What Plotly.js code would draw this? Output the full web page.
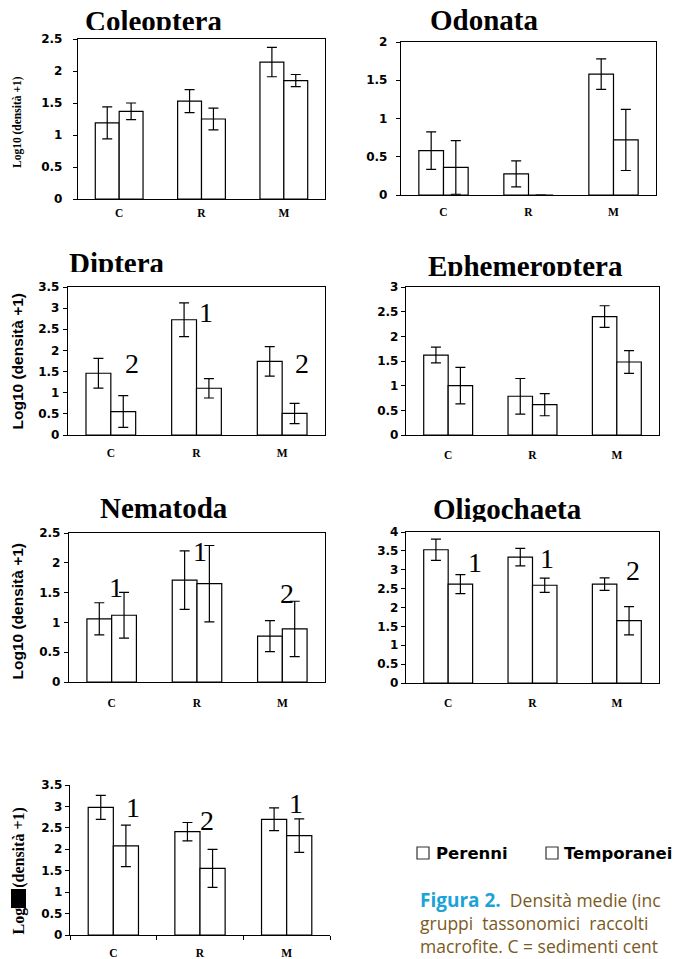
<!DOCTYPE html>
<html>
<head>
<meta charset="utf-8">
<script src="https://cdn.plot.ly/plotly-3.0.1.min.js"></script>
<style>
  html, body { margin: 0; padding: 0; background: #fff; }
  #wrap { position: relative; width: 673px; height: 959px; overflow: hidden; }
  #chart { width: 673px; height: 959px; }
  .mask { position: absolute; background: #fff; }
</style>
</head>
<body>
<div id="wrap">
  <div id="chart"></div>
</div>
<script>
// Sampling sites and the two habitat types
const sites = ['C', 'R', 'M'];
const seriesNames = ['Perenni', 'Temporanei'];

// Mean log10(density + 1) and standard errors per taxon
const coleopteraPerenni = [1.19, 1.53, 2.14];
const coleopteraPerenniErr = [0.25, 0.18, 0.23];
const coleopteraTemporanei = [1.37, 1.25, 1.85];
const coleopteraTemporaneiErr = [0.13, 0.17, 0.095];

const odonataPerenni = [0.58, 0.275, 1.58];
const odonataPerenniErr = [0.245, 0.17, 0.2];
const odonataTemporanei = [0.36, 0, 0.72];
const odonataTemporaneiErr = [0.35, 0, 0.40];

const dipteraPerenni = [1.46, 2.725, 1.74];
const dipteraPerenniErr = [0.35, 0.40, 0.35];
const dipteraTemporanei = [0.555, 1.105, 0.51];
const dipteraTemporaneiErr = [0.375, 0.23, 0.24];

const ephemeropteraPerenni = [1.62, 0.785, 2.40];
const ephemeropteraPerenniErr = [0.16, 0.36, 0.22];
const ephemeropteraTemporanei = [1.00, 0.615, 1.48];
const ephemeropteraTemporaneiErr = [0.37, 0.225, 0.23];

const nematodaPerenni = [1.06, 1.71, 0.77];
const nematodaPerenniErr = [0.27, 0.49, 0.26];
const nematodaTemporanei = [1.12, 1.65, 0.89];
const nematodaTemporaneiErr = [0.385, 0.64, 0.465];

const oligochaetaPerenni = [3.53, 3.335, 2.62];
const oligochaetaPerenniErr = [0.28, 0.23, 0.165];
const oligochaetaTemporanei = [2.62, 2.59, 1.65];
const oligochaetaTemporaneiErr = [0.25, 0.19, 0.375];

const lastPerenni = [2.98, 2.41, 2.70];
const lastPerenniErr = [0.28, 0.215, 0.265];
const lastTemporanei = [2.08, 1.555, 2.32];
const lastTemporaneiErr = [0.485, 0.445, 0.39];

// Homogeneous-group labels (one per site)
const dipteraGroups = ['2', '1', '2'];
const nematodaGroups = ['1', '1', '2'];
const oligochaetaGroups = ['1', '1', '2'];
const lastGroups = ['1', '2', '1'];

const yAxisTitle = 'Log10 (densità +1)';

// Caption text (justified lines)
const captionLabel = 'Figura 2.';
const captionLine1 = 'Densità medie (inc';
const captionLine2 = 'gruppi&nbsp; tassonomici&nbsp; raccolti';
const captionLine3 = 'macrofite. C = sedimenti cent';

const W = 673, H = 959;
const px = v => v / W;
const py = v => 1 - v / H;

const SERIF = 'Liberation Serif, Times New Roman, serif';
const SANS = 'Liberation Sans, Arial, sans-serif';
const WIDE = 'DejaVu Sans, Verdana, sans-serif';

// Panel layout: plot rectangle (pixels), axis range, styling
const panels = [
  { title: 'Coleoptera', p: coleopteraPerenni, pe: coleopteraPerenniErr, t: coleopteraTemporanei, te: coleopteraTemporaneiErr,
    box: [78, 325, 39, 199], ymax: 2.5, titlePos: [153, 21], ytitle: { x: 17, y: 122, font: SERIF, size: 11.5 },
    xStand: 3, yStand: 8, frame: true },
  { title: 'Odonata', p: odonataPerenni, pe: odonataPerenniErr, t: odonataTemporanei, te: odonataTemporaneiErr,
    box: [401, 656, 42, 195], ymax: 2, titlePos: [484, 20], ytitle: null, xStand: 6, yStand: 6, frame: true },
  { title: 'Diptera', p: dipteraPerenni, pe: dipteraPerenniErr, t: dipteraTemporanei, te: dipteraTemporaneiErr,
    box: [68, 325, 287, 435], ymax: 3.5, titlePos: [117, 263], ytitle: { x: 16.5, y: 361, font: SANS, size: 15.5 },
    xStand: 7, yStand: 1, frame: true, groups: dipteraGroups,
    groupPos: [[131.7, 363], [205.7, 312], [301.7, 363]] },
  { title: 'Ephemeroptera', p: ephemeropteraPerenni, pe: ephemeropteraPerenniErr, t: ephemeropteraTemporanei, te: ephemeropteraTemporaneiErr,
    box: [406, 659, 287, 435], ymax: 3, titlePos: [525, 266], ytitle: null, xStand: 9, yStand: 5.5, frame: true },
  { title: 'Nematoda', p: nematodaPerenni, pe: nematodaPerenniErr, t: nematodaTemporanei, te: nematodaTemporaneiErr,
    box: [69, 325, 533, 682], ymax: 2.5, titlePos: [164, 508], ytitle: { x: 16.5, y: 611, font: SANS, size: 15.5 },
    xStand: 10, yStand: 1, frame: true, groups: nematodaGroups,
    groupPos: [[115.7, 587], [200, 551], [286.7, 593]] },
  { title: 'Oligochaeta', p: oligochaetaPerenni, pe: oligochaetaPerenniErr, t: oligochaetaTemporanei, te: oligochaetaTemporaneiErr,
    box: [406, 659, 532, 683], ymax: 4, titlePos: [507, 509], ytitle: null, xStand: 9, yStand: 1.5, frame: true, groups: oligochaetaGroups,
    groupPos: [[475, 562], [547.3, 558], [632.7, 570]] },
  { title: '', p: lastPerenni, pe: lastPerenniErr, t: lastTemporanei, te: lastTemporaneiErr,
    box: [70, 330, 785, 935], ymax: 3.5, titlePos: null, ytitle: { x: 18.5, y: 871, font: SERIF, size: 16 },
    xStand: 7, yStand: 0, frame: false, groups: lastGroups,
    groupPos: [[133, 807], [206.7, 820], [296, 803]] }
];

const traces = [];
const layout = {
  width: W, height: H,
  margin: { l: 0, r: 0, t: 0, b: 0 },
  paper_bgcolor: '#fff', plot_bgcolor: '#fff',
  showlegend: false,
  barmode: 'group', bargap: 0.42, bargroupgap: 0,
  annotations: [], shapes: []
};

const barStyle = { color: '#fff', line: { color: '#000', width: 1.2 } };
const errStyle = arr => ({ type: 'data', array: arr, visible: true, color: '#000', thickness: 1.2, width: 5 });

panels.forEach((pn, i) => {
  const n = i + 1;
  const xa = 'x' + (n === 1 ? '' : n), ya = 'y' + (n === 1 ? '' : n);
  const xk = 'xaxis' + (n === 1 ? '' : n), yk = 'yaxis' + (n === 1 ? '' : n);
  const [l, r, t, b] = pn.box;

  traces.push({ type: 'bar', x: sites, y: pn.p, name: seriesNames[0], xaxis: xa, yaxis: ya,
    marker: barStyle, error_y: errStyle(pn.pe), hoverinfo: 'skip' });
  traces.push({ type: 'bar', x: sites, y: pn.t, name: seriesNames[1], xaxis: xa, yaxis: ya,
    marker: barStyle, error_y: errStyle(pn.te), hoverinfo: 'skip' });

  layout[xk] = {
    domain: [px(l), px(r)], anchor: ya,
    type: 'category', range: [-0.5, 2.5],
    showgrid: false, zeroline: false,
    showline: true, linecolor: '#000', linewidth: 1.2,
    mirror: pn.frame,
    ticks: pn.frame ? '' : 'outside', tickson: 'boundaries', ticklen: 4, tickcolor: '#000', tickwidth: 1,
    tickfont: { family: SERIF, size: 11.5, color: '#000', weight: 'bold' },
    ticklabelstandoff: pn.xStand,
    fixedrange: true
  };
  layout[yk] = {
    domain: [py(b), py(t)], anchor: xa,
    range: [0, pn.ymax], dtick: 0.5, tick0: 0,
    showgrid: false, zeroline: false,
    showline: true, linecolor: '#000', linewidth: 1.2,
    mirror: pn.frame,
    ticks: 'outside', ticklen: 4, tickcolor: '#000', tickwidth: 1,
    tickfont: { family: WIDE, size: 12, color: '#000', weight: 'bold' },
    ticklabelstandoff: pn.yStand,
    fixedrange: true
  };

  if (pn.title) {
    layout.annotations.push({
      text: pn.title, xref: 'paper', yref: 'paper',
      x: px(pn.titlePos[0]), y: py(pn.titlePos[1]), xanchor: 'center', yanchor: 'middle',
      showarrow: false, font: { family: SERIF, size: 29, color: '#000', weight: 'bold' }
    });
  }
  if (pn.ytitle) {
    layout.annotations.push({
      text: yAxisTitle, xref: 'paper', yref: 'paper', textangle: -90,
      x: px(pn.ytitle.x), y: py(pn.ytitle.y), xanchor: 'center', yanchor: 'middle',
      showarrow: false, font: { family: pn.ytitle.font, size: pn.ytitle.size, color: '#000', weight: 'bold' }
    });
  }
  if (pn.groups) {
    pn.groups.forEach((g, k) => {
      layout.annotations.push({
        text: g, xref: 'paper', yref: 'paper',
        x: px(pn.groupPos[k][0]), y: py(pn.groupPos[k][1]), xanchor: 'center', yanchor: 'middle',
        showarrow: false, font: { family: SERIF, size: 28, color: '#000' }
      });
    });
  }
});

// Blacked-out part of the last y-axis title
layout.shapes.push({ type: 'rect', xref: 'paper', yref: 'paper', layer: 'above',
  x0: px(11), x1: px(26), y0: py(908), y1: py(889), fillcolor: '#000', line: { width: 0 } });

// Legend: outlined squares with series names
const legendItems = [
  { name: seriesNames[0], box: 417, text: 434 },
  { name: seriesNames[1], box: 546, text: 562 }
];
legendItems.forEach(it => {
  layout.shapes.push({ type: 'rect', xref: 'paper', yref: 'paper',
    x0: px(it.box), x1: px(it.box + 12), y0: py(859), y1: py(847),
    fillcolor: '#fff', line: { color: '#333', width: 1.2 } });
  layout.annotations.push({ text: it.name, xref: 'paper', yref: 'paper',
    x: px(it.text), y: py(853), xanchor: 'left', yanchor: 'middle', showarrow: false,
    font: { family: WIDE, size: 16.5, color: '#000', weight: 'bold' } });
});

// Caption lines
const captionFont = { family: 'Open Sans, sans-serif', size: 17.5, color: '#7a5a1e' };
const capAnn = (txt, x, y, font) => layout.annotations.push({ text: txt, xref: 'paper', yref: 'paper',
  x: px(x), y: py(y), xanchor: 'left', yanchor: 'middle', showarrow: false, font: font });
capAnn('<b><span style="color:#1ba3d9;font-size:19px">' + captionLabel + '</span></b>&nbsp; ' + captionLine1,
  418, 900, captionFont);
capAnn(captionLine2, 418, 923, captionFont);
capAnn(captionLine3, 418, 946, captionFont);

Plotly.newPlot('chart', traces, layout, { staticPlot: true, displayModeBar: false }).then(() => {
  // Titles are cut along their baseline
  const masks = [
    [80, 30, 150, 8],
    [60, 272, 115, 12],
    [420, 275.5, 210, 10],
    [425, 521.5, 165, 8]
  ];
  const wrap = document.getElementById('wrap');
  masks.forEach(([x, y, w, h]) => {
    const d = document.createElement('div');
    d.className = 'mask';
    d.style.left = x + 'px'; d.style.top = y + 'px';
    d.style.width = w + 'px'; d.style.height = h + 'px';
    wrap.appendChild(d);
  });
});
</script>
</body>
</html>
